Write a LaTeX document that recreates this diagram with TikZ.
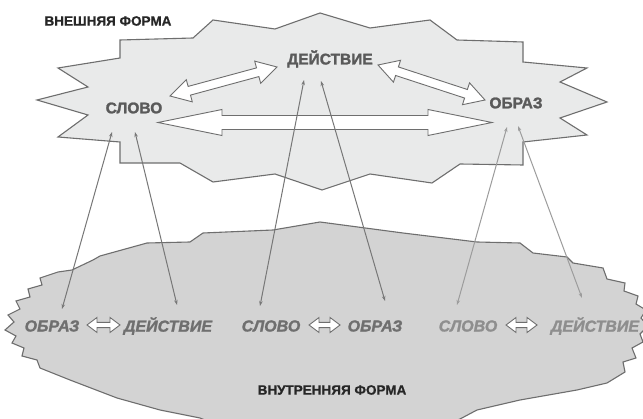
\documentclass[tikz,border=0pt]{standalone}
\usepackage{fontspec}
\setmainfont{Liberation Sans}
\newfontface\heavyface{Liberation Sans Bold}[FakeBold=1.6]
\newfontface\heavyital{Liberation Sans Bold Italic}[FakeBold=1.4]
\newfontface\labelface{Liberation Sans Bold}[FakeBold=0.8]
\usetikzlibrary{calc,arrows.meta}
\definecolor{topfill}{HTML}{E9EAEA}
\definecolor{lowfill}{HTML}{D3D3D3}
\definecolor{edge}{HTML}{6E6E6E}
\definecolor{wordtop}{HTML}{5A5A5A}
\definecolor{wordlow}{HTML}{6F6F6F}
\definecolor{wordpale}{HTML}{8E8E8E}
\definecolor{linkdark}{HTML}{777777}
\definecolor{linkpale}{HTML}{9C9C9C}
\tikzset{
  cloud/.style={draw=edge, line width=1.1pt, line join=miter},
  blockarrow/.style={draw=edge, fill=white, line width=0.9pt, line join=miter},
  topword/.style={font=\fontsize{15.5}{16}\heavyface, text=wordtop, inner sep=0pt},
  lowword/.style={font=\fontsize{16}{17}\heavyital, text=wordlow, inner sep=0pt},
  paleword/.style={lowword, text=wordpale},
  formlabel/.style={font=\fontsize{13.5}{14}\labelface, text=black!85, inner sep=0pt},
  link/.style={draw=linkdark, line width=1pt, {Stealth[length=5pt,width=3.5pt]}-{Stealth[length=5pt,width=3.5pt]}},
  palelink/.style={link, draw=linkpale, color=linkpale},
}
% #1 from, #2 to, #3 shaft half width, #4 head half width, #5 head length, #6 name
\newcommand\blockarr[6]{%
  \coordinate (#6-h1) at ($(#1)!#5!(#2)$);
  \coordinate (#6-h2) at ($(#2)!#5!(#1)$);
  \draw[blockarrow] (#1) -- ($(#6-h1)!#4!90:(#2)$) -- ($(#6-h1)!#3!90:(#2)$)
    -- ($(#6-h2)!#3!-90:(#1)$) -- ($(#6-h2)!#4!-90:(#1)$) -- (#2)
    -- ($(#6-h2)!#4!90:(#1)$) -- ($(#6-h2)!#3!90:(#1)$)
    -- ($(#6-h1)!#3!-90:(#2)$) -- ($(#6-h1)!#4!-90:(#2)$) -- cycle;
}
\begin{document}
\begin{tikzpicture}[x=1pt,y=-1pt]
\useasboundingbox[fill=white] (0,0) rectangle (643,419);
% lower (inner form) shape
\draw[cloud, fill=lowfill] (58,272) -- (72,270) -- (93,260) -- (100,256) -- (147,243) -- (190,242)
  -- (203,233) -- (273,230) -- (320,222) -- (403,233) -- (477,242) -- (520,243) -- (533,253)
  -- (567,257) -- (573,263) -- (603,268)
  -- (607,279) -- (625,283) -- (624,291) -- (638,296) -- (636,304) -- (646,310) -- (641,318)
  -- (648,326) -- (640,334) -- (643,342) -- (632,348) -- (636,358) -- (623,362) -- (625,372)
  -- (607,383) -- (577,390) -- (520,400) -- (477,410) -- (460,419) -- (440,426) -- (330,430)
  -- (220,426) -- (200,418) -- (160,410) -- (117,398) -- (70,380) -- (40,368)
  -- (37,360) -- (22,356) -- (24,348) -- (12,343) -- (16,336) -- (5,330) -- (14,322)
  -- (8,315) -- (20,309) -- (16,301) -- (30,297) -- (28,289) -- (42,285) -- (40,278) -- cycle;
% upper (outer form) shape
\draw[cloud, fill=topfill] (120,40) -- (193,38) -- (213,20) -- (275,29) -- (320,13) -- (370,28)
  -- (430,20) -- (457,40) -- (523,42) -- (523,62) -- (587,68) -- (560,82) -- (607,102)
  -- (560,118) -- (587,135) -- (523,142) -- (523,165) -- (460,164) -- (432,183) -- (370,174)
  -- (322,190) -- (275,174) -- (213,182) -- (180,163) -- (120,163) -- (120,142) -- (58,137)
  -- (88,115) -- (37,100) -- (88,87) -- (58,68) -- (120,58) -- cycle;
% labels
\node[formlabel] (outer) at (108,21) {ВНЕШНЯЯ ФОРМА};
\node[formlabel] (inner) at (332,390) {ВНУТРЕННЯЯ ФОРМА};
% top words
\node[topword] (tslovo) at (134,108) {СЛОВО};
\node[topword] (tdeyst) at (330,59) {ДЕЙСТВИЕ};
\node[topword] (tobraz) at (516,103) {ОБРАЗ};
% lower words
\node[lowword] (l1obraz) at (52,326) {ОБРАЗ};
\node[lowword] (l1deyst) at (168,326) {ДЕЙСТВИЕ};
\node[lowword] (l2slovo) at (271,326) {СЛОВО};
\node[lowword] (l2obraz) at (375,326) {ОБРАЗ};
\node[paleword] (l3slovo) at (468,326) {СЛОВО};
\node[paleword] (l3deyst) at (595,326) {ДЕЙСТВИЕ};
% block arrows, top
\coordinate (sd1) at (170,96);
\coordinate (sd2) at (277,67);
\blockarr{sd1}{sd2}{4.5pt}{11.5pt}{20pt}{asd}
\coordinate (do1) at (378,65);
\coordinate (do2) at (485,100);
\blockarr{do1}{do2}{4.5pt}{11.5pt}{20pt}{ado}
\coordinate (so1) at (158,122.5);
\coordinate (so2) at (492,122.5);
\blockarr{so1}{so2}{7pt}{13pt}{64pt}{aso}
% small block arrows, bottom
\coordinate (b1a) at (87,325); \coordinate (b1b) at (120,325);
\blockarr{b1a}{b1b}{2.6pt}{7.5pt}{10pt}{ab1}
\coordinate (b2a) at (309,325); \coordinate (b2b) at (340,325);
\blockarr{b2a}{b2b}{2.6pt}{7.5pt}{10pt}{ab2}
\coordinate (b3a) at (506,325); \coordinate (b3b) at (537,325);
\blockarr{b3a}{b3b}{2.6pt}{7.5pt}{10pt}{ab3}
% thin links
\coordinate (e1a) at (62,309); \coordinate (e1b) at (112,132);
\coordinate (e2a) at (177,305); \coordinate (e2b) at (135,132);
\coordinate (e3a) at (260,306); \coordinate (e3b) at (304,80);
\coordinate (e4a) at (385,301); \coordinate (e4b) at (321,81);
\coordinate (e5a) at (457,305); \coordinate (e5b) at (507,127);
\coordinate (e6a) at (582,298); \coordinate (e6b) at (518,126);
\draw[link] (e1a) -- (e1b);
\draw[link] (e2a) -- (e2b);
\draw[link] (e3a) -- (e3b);
\draw[link] (e4a) -- (e4b);
\draw[palelink] (e5a) -- (e5b);
\draw[palelink] (e6a) -- (e6b);
\end{tikzpicture}
\end{document}
